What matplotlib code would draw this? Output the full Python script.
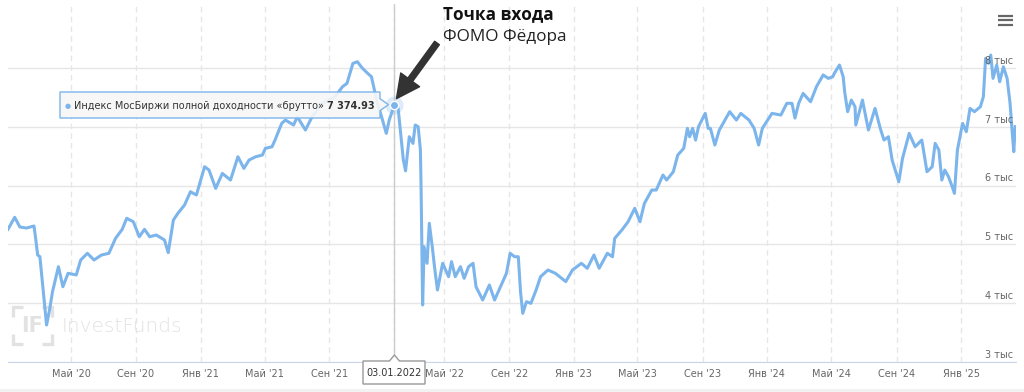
import numpy as np
import matplotlib.pyplot as plt
from matplotlib.patches import Polygon, Rectangle
import matplotlib.transforms as mtransforms

# MCFTR gross index
dates = np.array([
    '2020-01-03', '2020-01-16', '2020-01-27', '2020-02-07', '2020-02-21', '2020-02-25',
    '2020-02-28', '2020-03-04', '2020-03-10', '2020-03-13', '2020-03-17', '2020-03-23',
    '2020-03-27', '2020-04-08', '2020-04-16', '2020-04-27', '2020-05-12', '2020-05-20',
    '2020-06-02', '2020-06-15', '2020-06-29', '2020-07-13', '2020-07-24', '2020-08-06',
    '2020-08-14', '2020-08-27', '2020-09-08', '2020-09-17', '2020-09-28', '2020-10-09',
    '2020-10-26', '2020-11-02', '2020-11-11', '2020-11-19', '2020-12-02', '2020-12-14',
    '2020-12-24', '2021-01-08', '2021-01-18', '2021-01-29', '2021-02-11', '2021-02-26',
    '2021-03-12', '2021-03-24', '2021-04-02', '2021-04-15', '2021-04-28', '2021-05-04',
    '2021-05-17', '2021-05-21', '2021-06-03', '2021-06-10', '2021-06-25', '2021-07-02',
    '2021-07-19', '2021-07-30', '2021-08-19', '2021-09-13', '2021-09-27', '2021-10-05',
    '2021-10-15', '2021-10-25', '2021-11-03', '2021-11-12', '2021-11-19', '2021-11-25',
    '2021-12-01', '2021-12-08', '2021-12-17', '2021-12-23', '2022-01-03', '2022-01-10',
    '2022-01-19', '2022-01-24', '2022-01-31', '2022-02-07', '2022-02-10', '2022-02-16',
    '2022-02-21', '2022-02-22', '2022-02-24', '2022-03-24', '2022-03-30', '2022-04-04',
    '2022-04-08', '2022-04-13', '2022-04-19', '2022-04-28', '2022-05-10', '2022-05-16',
    '2022-05-23', '2022-06-01', '2022-06-08', '2022-06-16', '2022-06-24', '2022-06-30',
    '2022-07-13', '2022-07-26', '2022-08-04', '2022-08-17', '2022-08-26', '2022-09-02',
    '2022-09-12', '2022-09-19', '2022-09-22', '2022-09-27', '2022-10-04', '2022-10-12',
    '2022-10-21', '2022-10-31', '2022-11-14', '2022-11-28', '2022-12-16', '2022-12-29',
    '2023-01-16', '2023-01-26', '2023-02-08', '2023-02-17', '2023-03-06', '2023-03-15',
    '2023-03-20', '2023-04-03', '2023-04-13', '2023-04-26', '2023-05-05', '2023-05-15',
    '2023-05-29', '2023-06-06', '2023-06-19', '2023-06-26', '2023-07-07', '2023-07-17',
    '2023-07-27', '2023-08-03', '2023-08-08', '2023-08-14', '2023-08-18', '2023-08-24',
    '2023-09-06', '2023-09-12', '2023-09-15', '2023-09-25', '2023-10-03', '2023-10-23',
    '2023-11-03', '2023-11-13', '2023-11-28', '2023-12-07', '2023-12-15', '2023-12-22',
    '2024-01-10', '2024-01-26', '2024-02-07', '2024-02-16', '2024-02-22', '2024-02-29',
    '2024-03-08', '2024-03-22', '2024-04-03', '2024-04-16', '2024-04-25', '2024-05-03',
    '2024-05-07', '2024-05-16', '2024-05-23', '2024-05-27', '2024-05-31', '2024-06-07',
    '2024-06-14', '2024-06-17', '2024-06-28', '2024-07-10', '2024-07-23', '2024-08-01',
    '2024-08-08', '2024-08-16', '2024-08-23', '2024-09-05', '2024-09-12', '2024-09-25',
    '2024-10-07', '2024-10-18', '2024-10-29', '2024-11-07', '2024-11-13', '2024-11-20',
    '2024-11-26', '2024-12-02', '2024-12-09', '2024-12-16', '2024-12-19', '2024-12-25',
    '2025-01-03', '2025-01-10', '2025-01-17', '2025-01-27', '2025-02-06', '2025-02-12',
    '2025-02-17', '2025-02-21', '2025-02-26', '2025-03-03', '2025-03-10', '2025-03-14',
    '2025-03-21', '2025-03-28', '2025-04-03', '2025-04-08', '2025-04-10', '2025-04-14',
], dtype='datetime64[D]')

values = np.array([
    5256, 5460, 5295, 5278, 5312, 5130,
    4819, 4790, 4280, 3884, 3629, 3884,
    4195, 4620, 4280, 4508, 4480, 4734,
    4848, 4734, 4819, 4848, 5103, 5256,
    5443, 5385, 5130, 5256, 5130, 5159,
    5074, 4859, 5414, 5527, 5669, 5895,
    5839, 6320, 6264, 5952, 6206, 6094,
    6490, 6292, 6434, 6490, 6519, 6632,
    6660, 6774, 7057, 7114, 7029, 7170,
    6944, 7170, 7398, 7511, 7681, 7737,
    8077, 8105, 7992, 7907, 7850, 7624,
    7398, 7199, 6887, 7114, 7374.93, 7312,
    6434, 6250, 6830, 6717, 7029, 7001,
    6604, 5900, 3969, 4960, 4678, 5358,
    4960, 4620, 4224, 4678, 4451, 4706,
    4451, 4620, 4423, 4620, 4678, 4280,
    4054, 4309, 4054, 4309, 4508, 4848,
    4790, 4790, 4195, 3827, 4025, 3997,
    4224, 4451, 4564, 4508, 4367, 4564,
    4678, 4593, 4819, 4593, 4848, 4790,
    5103, 5250, 5385, 5614, 5385, 5697,
    5924, 5924, 6179, 6094, 6235, 6519,
    6632, 6972, 6830, 6972, 6774, 7001,
    7227, 6972, 6972, 6689, 6944, 7256,
    7114, 7227, 7114, 6972, 6689, 6972,
    7227, 7199, 7398, 7398, 7147, 7398,
    7567, 7425, 7681, 7880, 7822, 7850,
    7907, 8049, 7850, 7595, 7256, 7454,
    7340, 7029, 7454, 6944, 7312, 6972,
    6774, 6830, 6434, 6065, 6462, 6887,
    6660, 6774, 6235, 6320, 6717, 6604,
    6094, 6264, 6150, 5980, 5867, 6604,
    7057, 6915, 7312, 7256, 7340, 7511,
    8162, 8077, 8219, 7822, 8049, 7765,
    8020, 7822, 7398, 6887, 6575, 7001,
])

tick_dates = np.array([
    '2020-05-01', '2020-09-01', '2021-01-01', '2021-05-01', '2021-09-01', '2022-01-01',
    '2022-05-01', '2022-09-01', '2023-01-01', '2023-05-01', '2023-09-01', '2024-01-01',
    '2024-05-01', '2024-09-01', '2025-01-01',
], dtype='datetime64[D]')
tick_labels = ["Май '20", "Сен '20", "Янв '21", "Май '21", "Сен '21", "Янв '22",
               "Май '22", "Сен '22", "Янв '23", "Май '23", "Сен '23", "Янв '24",
               "Май '24", "Сен '24", "Янв '25"]
y_ticks = [3000, 4000, 5000, 6000, 7000, 8000]

series_name = 'Индекс МосБиржи полной доходности «брутто»'
entry_date = np.datetime64('2022-01-03')
entry_value = 7374.93

# exchange was closed, the chart axis is ordinal (trading days only)
closed_days = np.arange(np.datetime64('2022-02-28'), np.datetime64('2022-03-24'))


def ordinal(d):
    return np.busday_count(dates[0], d, holidays=closed_days)


W, H = 1024, 392
fig = plt.figure(figsize=(W / 100, H / 100), dpi=100, facecolor='white')


def fx(px):
    return px / W


def fy(py):
    return 1 - py / H


bg = fig.add_axes([0, 0, 1, 1], zorder=0)
bg.set_xlim(0, W)
bg.set_ylim(H, 0)
bg.axis('off')

ax = fig.add_axes([fx(8), fy(362), fx(1016) - fx(8), fy(4.4) - fy(362)], zorder=1)
ax.set_facecolor('none')

fg = fig.add_axes([0, 0, 1, 1], zorder=2)
fg.set_xlim(0, W)
fg.set_ylim(H, 0)
fg.axis('off')
fg.set_facecolor('none')

# watermark
wm = '#e2e2e2'
for (x0, y0, dx, dy) in [(13, 307, 1, 1), (52, 307, -1, 1), (13, 344, 1, -1), (52, 344, -1, -1)]:
    bg.plot([x0, x0, x0 + dx * 10], [y0 + dy * 10, y0, y0], color=wm, lw=2.4,
            solid_capstyle='butt', solid_joinstyle='miter')
bg.text(32.5, 326, 'IF', fontsize=15, fontweight='bold', color=wm, ha='center', va='center')
bg.text(62, 326, 'InvestFunds', fontsize=14.5, fontweight='light', color=wm, va='center')
bg.add_patch(Rectangle((0, 389), W, 3, color='#f2f2f2', lw=0))

xs = ordinal(dates)
x_entry = ordinal(entry_date)

ax.axvline(x_entry, color='#cccccc', lw=1, zorder=1.5)
ax.plot(xs, values, color='#7cb5ec', lw=2.2, solid_joinstyle='round', zorder=2)
ax.plot(x_entry, entry_value, 'o', ms=13, color='#7cb5ec', alpha=0.25, mec='none', zorder=3)
ax.plot(x_entry, entry_value, 'o', ms=6, color='#7cb5ec', mec='white', mew=1, zorder=3)

# the date label hides the January 2022 tick label
shown_labels = [lab if td != np.datetime64('2022-01-01') else '' for td, lab in zip(tick_dates, tick_labels)]

ax.set_xlim(xs[0], xs[-1] + 1)
ax.set_ylim(3000, 9080)
ax.set_xticks(ordinal(tick_dates))
ax.set_xticklabels(shown_labels)
ax.set_yticks(y_ticks)
ax.grid(axis='y', color='#e6e6e6', lw=1)
ax.grid(axis='x', color='#e6e6e6', lw=1, ls=(0, (4, 3)))
ax.set_axisbelow(True)
for s in ['top', 'left', 'right']:
    ax.spines[s].set_visible(False)
ax.spines['bottom'].set_color('#ccd6eb')
ax.tick_params(axis='x', length=0, pad=5, labelsize=7, labelcolor='#666666')
ax.tick_params(axis='y', length=0, labelleft=False)

ytr = mtransforms.blended_transform_factory(ax.transAxes, ax.transData)
for v in y_ticks:
    ax.annotate(f'{v // 1000} тыс', xy=(1, v), xycoords=ytr, xytext=(-2, 1.5),
                textcoords='offset points', ha='right', va='bottom', fontsize=7, color='#666666')

# point position in overlay pixels
fig.canvas.draw()
px, py = fg.transData.inverted().transform(ax.transData.transform((x_entry, entry_value)))

# tooltip
tip = Polygon([(60, 92), (380, 92), (380, py - 6), (px - 6, py), (380, py + 6), (380, 118), (60, 118)],
              closed=True, facecolor=(0.97, 0.97, 0.97, 0.9), edgecolor='#7cb5ec', lw=1)
fg.add_patch(tip)
fg.text(68, 105.5, '●', fontsize=5, color='#7cb5ec', va='center', ha='center')
name = fg.text(74, 105.5, series_name + ' ', fontsize=7.0, color='#333333', va='center')
value_txt = f'{entry_value:,.2f}'.replace(',', ' ')
fg.annotate(value_txt, xy=(1, 0.5), xycoords=name, va='center', fontsize=7.0,
            fontweight='bold', color='#333333')

# date label on the x axis
date_box = Polygon([(363, 361), (px - 5, 361), (px, 355), (px + 5, 361), (425, 361), (425, 384), (363, 384)],
                   closed=True, facecolor='white', edgecolor='#999999', lw=1)
fg.add_patch(date_box)
d = str(entry_date)
fg.text(394, 373, f'{d[8:10]}.{d[5:7]}.{d[0:4]}', fontsize=7, color='#333333', ha='center', va='center')

# annotation
fg.text(443, 14, 'Точка входа', fontsize=12.3, fontweight='bold', family='Open Sans',
        color='#111111', va='center')
fg.text(443, 37, 'ФОМО Фёдора', fontsize=12.3, family='Open Sans', color='#222222', va='center')
fg.annotate('', xy=(px + 2, py - 6), xytext=(437, 43),
            arrowprops=dict(arrowstyle='simple,head_length=1.2,head_width=1.2,tail_width=0.3',
                            color='#333333', mutation_scale=14, shrinkA=0, shrinkB=0))

# menu icon
for yy in (15.5, 20, 24.5):
    fg.plot([998, 1013], [yy, yy], color='#666666', lw=1.6, solid_capstyle='butt')

fig.savefig('out.png', dpi=100, facecolor='white')
